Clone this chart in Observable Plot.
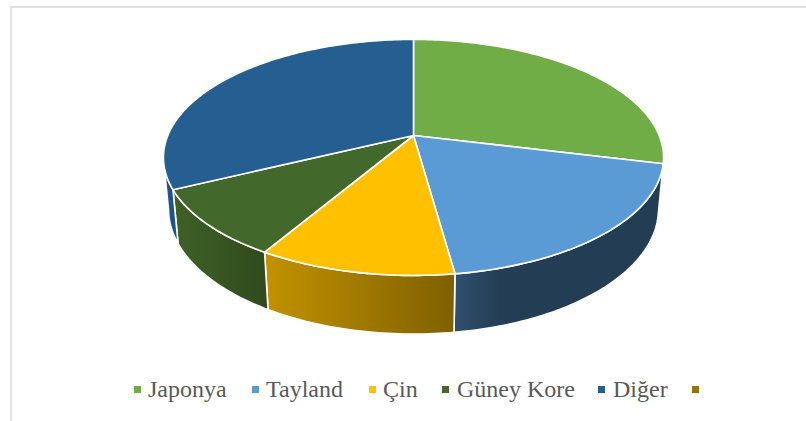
<!DOCTYPE html>
<html><head><meta charset="utf-8">
<script src="https://cdn.jsdelivr.net/npm/d3@7"></script>
<script src="https://cdn.jsdelivr.net/npm/@observablehq/plot@0.6"></script>
<style>
html,body{margin:0;padding:0;background:#fff;overflow:hidden}
#frame{position:absolute;left:10px;top:6px;width:796px;height:415px;border-top:2px solid #e0e0e0;border-left:2px solid #e0e0e0;box-sizing:border-box;pointer-events:none}
#chart{position:absolute;left:0;top:0}
#legend{position:absolute;left:0;top:372px;width:806px;height:49px;font:24px "Liberation Serif",serif;color:#595959}
.k{position:absolute;top:14px;width:7px;height:7px}
.t{position:absolute;top:4px;line-height:27px;white-space:nowrap}
</style></head><body>
<div id="chart"></div><div id="legend"></div><div id="frame"></div>
<script>
const names = ["Japonya", "Tayland", "Çin", "Güney Kore", "Diğer", ""];
const values = [28.8, 19.0, 10.7, 9.3, 32.2, 0];
const topColors = ["#70AD47", "#5B9BD5", "#FFC000", "#43682B", "#255E91", "#997300"];
const sideFrom = [null, "#30506F", "#C29200", "#3F6127", "#1F5488", null];
const sideTo = [null, "#233D54", "#7F6000", "#2F4A1C", "#1F5488", null];
const sideStops = [null, 0.22, 1, 1, 1, null];
const legendX = [134, 252, 369, 442, 598, 692];
const legendTextX = [148, 266, 383, 457, 613, null];

// oblique perspective of a unit disc with a thickness
const persp = 0.186, backShrink = 0.02, thick = 0.454;
const rad = d => d * Math.PI / 180;
function rim(deg, lower) {
  const u = Math.sin(rad(deg)), v = Math.cos(rad(deg));
  const w = 1 + persp * v + (lower ? backShrink : 0);
  return {x: u / w, y: (v - (lower ? thick : 0)) / w};
}
const total = d3.sum(values);
let acc = 0;
const slices = values.map((val, i) => {
  const a0 = acc / total * 360; acc += val; const a1 = acc / total * 360;
  return {i, a0, a1};
}).filter(s => s.a1 > s.a0);
const arc = (a0, a1, lower) => {
  const n = Math.max(2, Math.ceil(a1 - a0));
  return d3.range(n + 1).map(k => rim(a0 + (a1 - a0) * k / n, lower));
};
const sideEnd = 259; // left silhouette of the disc
const line = (pts, fill) => Plot.line(pts, {x: "x", y: "y", fill, stroke: "#fff", strokeWidth: 1.6, strokeLinejoin: "round", curve: "linear"});

const defs = () => {
  const s = d3.create("svg:defs");
  slices.forEach(({i}) => {
    if (!sideFrom[i]) return;
    const g = s.append("linearGradient").attr("id", "side" + i);
    g.append("stop").attr("offset", 0).attr("stop-color", sideFrom[i]);
    g.append("stop").attr("offset", sideStops[i]).attr("stop-color", sideTo[i]);
  });
  return s.node();
};
const sideMarks = slices.filter(s => sideFrom[s.i]).map(({i, a0, a1}) => {
  const e = Math.min(a1, sideEnd);
  const pts = [...arc(a0, e, false), ...arc(a0, e, true).reverse()];
  pts.push(pts[0]);
  return line(pts, `url(#side${i})`);
});
const topMarks = slices.map(({i, a0, a1}) =>
  line([{x: 0, y: 0}, ...arc(a0, a1, false), {x: 0, y: 0}], topColors[i]));

const chart = Plot.plot({
  width: 806, height: 372, margin: 0,
  x: {axis: null, domain: [-1, 1], range: [167.3, 658.7]},
  y: {axis: null, domain: [-1, 1], range: [248.9, 21.1]},
  marks: [defs, ...sideMarks, ...topMarks]
});
document.getElementById("chart").append(chart);

const lg = document.getElementById("legend");
names.forEach((n, i) => {
  const k = document.createElement("div");
  k.className = "k"; k.style.left = legendX[i] + "px"; k.style.background = topColors[i];
  lg.append(k);
  if (n) {
    const t = document.createElement("div");
    t.className = "t"; t.style.left = legendTextX[i] + "px"; t.textContent = n;
    lg.append(t);
  }
});
</script></body></html>
